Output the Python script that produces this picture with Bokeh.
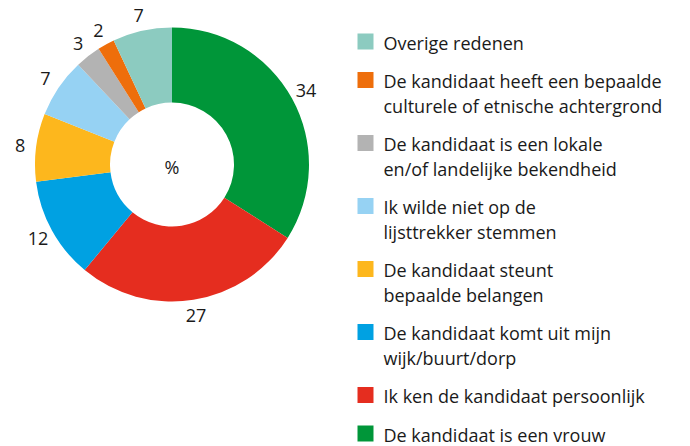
import numpy as np
from bokeh.plotting import figure
from bokeh.models import Range1d, ColumnDataSource
from bokeh.core.properties import value
from bokeh.embed import file_html
from bokeh.resources import INLINE

# Data (clockwise from top)
categories = [
    "De kandidaat is een vrouw",
    "Ik ken de kandidaat persoonlijk",
    "De kandidaat komt uit mijn\nwijk/buurt/dorp",
    "De kandidaat steunt\nbepaalde belangen",
    "Ik wilde niet op de\nlijsttrekker stemmen",
    "De kandidaat is een lokale\nen/of landelijke bekendheid",
    "De kandidaat heeft een bepaalde\nculturele of etnische achtergrond",
    "Overige redenen",
]
values = [34, 27, 12, 8, 7, 3, 2, 7]
colors = ["#009639", "#e52d1f", "#00a1e2", "#fdb71d", "#96d2f3", "#b3b3b3", "#ee6e0b", "#8ccbc0"]

W, H = 690, 446
FONT = "Open Sans"
cx, cy = 171.5, H - 164
R_out, R_in = 137, 62

p = figure(width=W, height=H, output_backend="svg", toolbar_location=None,
           x_range=Range1d(0, W), y_range=Range1d(0, H), min_border=0)
p.axis.visible = False
p.grid.visible = False
p.outline_line_color = None
p.background_fill_color = "white"
p.border_fill_color = "white"

vals = np.array(values, dtype=float)
frac = vals / vals.sum()
cum = np.concatenate([[0], np.cumsum(frac)])
start = np.pi / 2 - cum[:-1] * 2 * np.pi
end = np.pi / 2 - cum[1:] * 2 * np.pi
mid = (start + end) / 2

src = ColumnDataSource(dict(start=start, end=end, color=colors,
                            x=[cx] * len(values), y=[cy] * len(values)))
p.annular_wedge(x="x", y="y", inner_radius=R_in, outer_radius=R_out,
                start_angle="start", end_angle="end", direction="clock",
                fill_color="color", line_color=None, source=src)

# value labels
R_lab = 153
lab = ColumnDataSource(dict(x=cx + R_lab * np.cos(mid), y=cy + R_lab * np.sin(mid),
                            t=[str(v) for v in values]))
p.text(x="x", y="y", text="t", source=lab, text_font=value(FONT), text_font_size="18px",
       text_color="#1a1a1a", text_align="center", text_baseline="middle")

p.text(x=[cx], y=[cy - 2], text=["%"], text_font=value(FONT), text_font_size="18px",
       text_color="#1a1a1a", text_align="center", text_baseline="middle")

# legend (reverse order: top item is last slice)
order = list(range(len(categories)))[::-1]
y = 42.0
sq_x, sq_y, sq_c = [], [], []
tx, ty, tt = [], [], []
for i in order:
    lines = categories[i].split("\n")
    sq_x.append(365)
    sq_y.append(H - y + 1)
    sq_c.append(colors[i])
    for k, ln in enumerate(lines):
        tx.append(383)
        ty.append(H - (y + k * 24.5))
        tt.append(ln)
    y += 38.5 + 24.5 * (len(lines) - 1)

p.rect(x=sq_x, y=sq_y, width=16, height=16, fill_color=sq_c, line_color=None)
p.text(x=tx, y=ty, text=tt, text_font=value(FONT), text_font_size="18px",
       text_color="#1a1a1a", text_align="left", text_baseline="middle")

open("out.html", "w").write(file_html(p, INLINE))
